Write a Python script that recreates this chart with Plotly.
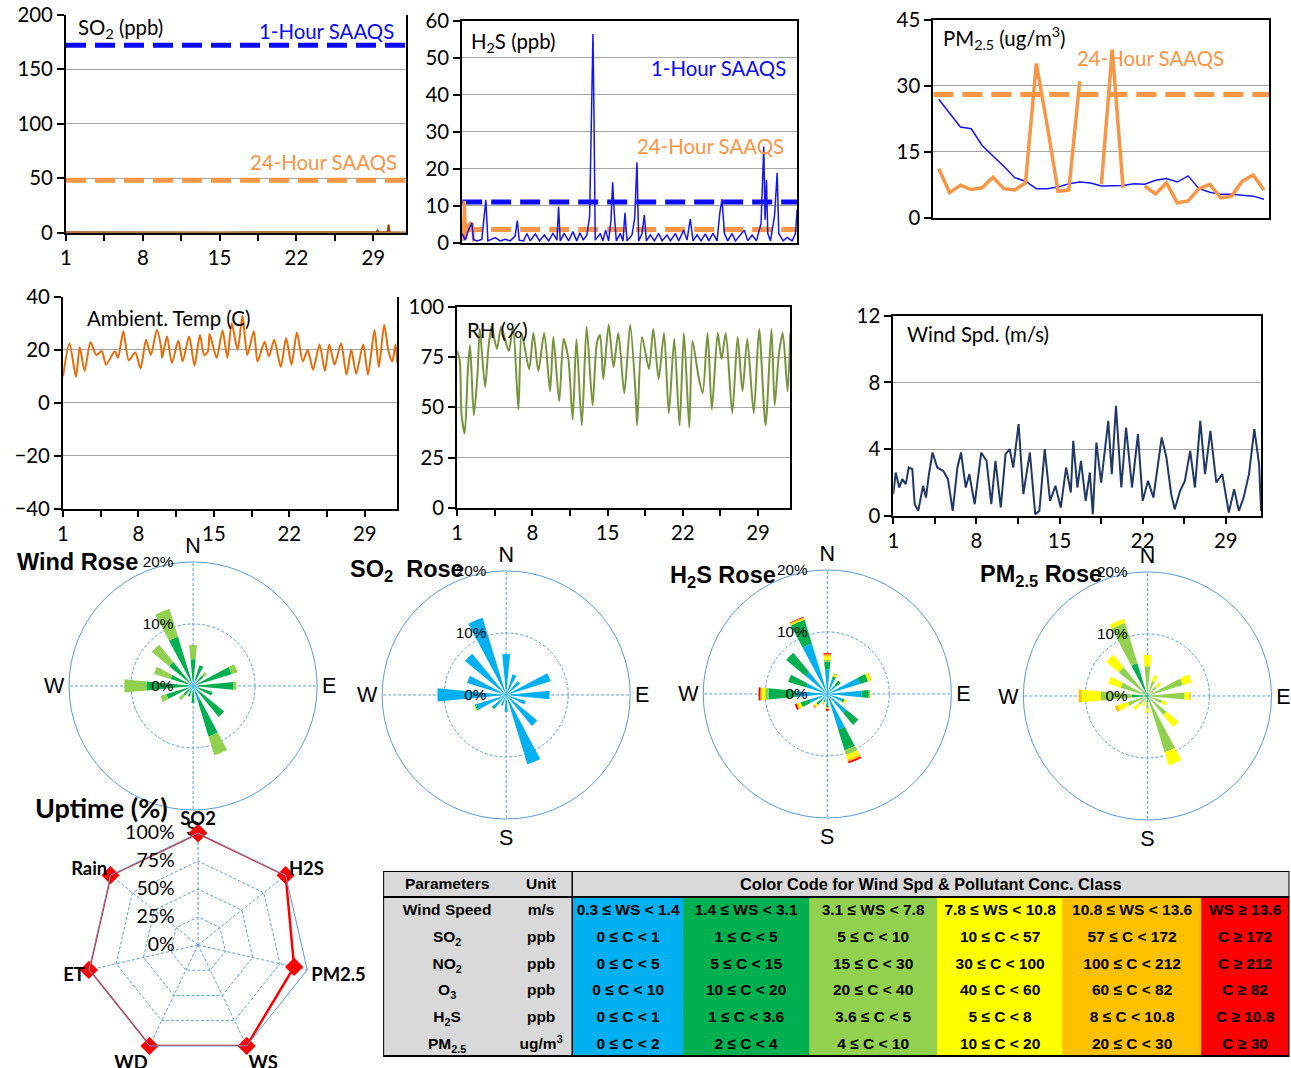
import plotly.graph_objects as go

W, H = 1291, 1068
# measured mapping of page pixels to the photographed picture: pic = S*page + O
SX, OX, SY, OY = 0.995, 6.0, 0.977, 13.4
def fx(t): return min(max(((t - OX) / SX) / W, 0.0), 1.0)
def fy(t): return min(max(1 - ((t - OY) / SY) / H, 0.0), 1.0)
PIC_BOTTOM = SY * H + OY

LATO = "Lato, Carlito, Calibri, sans-serif"
ARIAL = "Liberation Sans, Arial, sans-serif"

# ---------------- data ----------------
day_labels = [1, 8, 15, 22, 29]

so2_day = [1, 5, 10, 15, 20, 25, 29.3, 29.4, 29.5, 30.3, 30.4, 30.5, 32]
so2_val = [0.5, 0.3, 0.5, 0.3, 0.4, 0.3, 0.5, 2.0, 0.5, 0.5, 7.5, 0.5, 0.3]
so2_std_1h = 172
so2_std_24h = 48

h2s_day = [1.0, 1.28, 1.59, 1.9, 2.05, 2.36, 2.82, 3.04, 3.19, 3.38, 4.05, 4.52, 4.98, 5.44, 5.9, 6.1, 6.28,
           6.68, 6.99, 7.3, 7.76, 8.16, 8.6, 9.0, 9.4, 9.77, 9.92, 10.07, 10.44, 10.85, 11.25, 11.6, 11.9,
           12.2, 12.54, 12.79, 12.91, 13.0, 13.1, 13.19, 13.31, 13.78, 14.02, 14.27, 14.55, 14.77, 14.92,
           15.07, 15.26, 15.63, 15.88, 16.06, 16.25, 16.71, 16.96, 17.17, 17.33, 17.64, 17.85, 18.04, 18.41,
           18.78, 19.18, 19.49, 19.95, 20.26, 20.72, 21.03, 21.49, 21.8, 22.1, 22.36, 22.73, 23.1, 23.5,
           23.81, 24.2, 24.58, 24.83, 25.04, 25.26, 25.57, 25.97, 26.28, 26.74, 27.1, 27.42, 27.82, 28.22,
           28.65, 28.9, 29.02, 29.15, 29.27, 29.52, 29.89, 30.14, 30.29, 30.69, 31.06, 31.52, 31.83, 31.99]
h2s_val = [2.5, 0.7, 3.4, 5.4, 0.9, 0.5, 0.9, 8.0, 11.6, 0.5, 1.4, 0.5, 0.9, 0.5, 1.8, 6.0, 0.7,
           0.5, 2.5, 0.5, 2.4, 0.5, 2.1, 0.5, 2.5, 0.7, 9.8, 0.5, 2.5, 0.5, 3.0, 0.5, 2.7,
           0.7, 2.1, 7.1, 27.0, 35.0, 56.4, 36.0, 0.7, 2.5, 0.5, 3.4, 0.5, 6.2, 16.3,
           8.0, 0.5, 2.5, 0.5, 8.1, 0.5, 2.1, 6.6, 21.7, 0.5, 2.5, 7.5, 0.5, 2.1,
           0.5, 2.5, 0.5, 2.1, 0.5, 2.5, 0.5, 3.4, 0.7, 6.4, 0.5, 2.1, 0.5, 2.4,
           0.5, 2.5, 0.5, 8.0, 11.8, 2.5, 0.5, 2.5, 0.5, 2.1, 3.4, 0.5, 2.1, 0.5,
           5.2, 26.0, 6.2, 17.0, 2.5, 0.5, 7.1, 18.8, 2.5, 0.5, 1.4, 0.5, 2.5, 9.0]
h2s24_day = [1.05, 1.22, 1.35, 1.45, 1.6, 1.75, 1.95, 2.05]
h2s24_val = [0.5, 11.3, 1.0, 5.0, 4.5, 5.3, 5.0, 0.3]
h2s_std_1h = 11
h2s_std_24h = 3.6

pm_day = list(range(1, 32))
pm_blue = [26.9, 23.8, 20.6, 20.2, 16.4, 14.0, 11.7, 9.1, 8.3, 6.6, 6.6, 7.0, 7.7, 8.1, 7.9, 7.2,
           7.2, 7.3, 7.7, 7.6, 8.5, 8.9, 8.1, 9.5, 6.6, 5.8, 5.3, 5.3, 5.1, 4.9, 4.2]
pm_orange = [11.1, 5.7, 7.4, 6.4, 6.8, 9.2, 6.6, 6.3, 7.9, 35.0, 21.0, 6.0, 6.3, 31.0, None, 7.6,
             38.2, 6.8, None, 7.2, 5.4, 7.9, 3.4, 3.8, 6.6, 7.6, 4.5, 4.9, 8.3, 9.7, 6.3]
pm_std_24h = 28

temp_day = [1.0, 1.6, 2.2, 2.55, 3.0, 3.55, 4.1, 4.6, 5.0, 5.8, 6.1, 6.6, 7.1, 7.7, 8.2, 8.7, 9.15, 9.7,
            10.1, 10.2, 10.65, 11.1, 11.7, 12.1, 12.7, 13.2, 13.7, 14.1, 14.45, 14.6, 15.25, 15.8, 16.25,
            16.65, 17.2, 17.65, 18.1, 18.7, 19.05, 19.7, 20.1, 20.6, 21.2, 21.7, 22.2, 22.7, 23.25, 23.7,
            24.2, 24.8, 25.3, 25.7, 26.2, 26.8, 27.3, 27.75, 28.2, 28.85, 29.3, 29.9, 30.3, 30.8, 31.2,
            31.55, 31.85, 32.0]
temp_val = [10, 22.5, 9.8, 21, 12, 22.8, 18, 19.5, 14.4, 19.4, 17, 27, 16, 19, 13, 23.8, 18, 27.5,
            21, 17, 25, 15, 23.4, 15.6, 25, 14, 25.6, 18, 19.4, 26, 17, 27.3, 17,
            30, 20, 32.8, 18, 27, 15.6, 23, 17.5, 23.8, 13.5, 24.4, 14.4, 26.5, 15.6, 20,
            12.5, 22, 12, 22, 14.4, 22.5, 10.6, 20, 11, 22, 10.6, 27.5, 13.5, 29.4, 19.4,
            15.6, 22, 15]

rh_day = [1.0, 1.25, 1.4, 1.7, 2.0, 2.2, 2.55, 2.9, 3.1, 3.6, 3.9, 4.2, 4.7, 5.1, 5.8, 6.2, 6.7, 7.0,
          7.7, 8.1, 8.55, 9.1, 9.65, 9.95, 10.5, 10.9, 11.35, 11.75, 12.1, 12.6, 13.05, 13.6, 14.0, 14.3,
          14.6, 15.1, 15.55, 16.0, 16.55, 17.1, 17.6, 17.75, 18.2, 18.85, 19.25, 19.75, 20.25, 20.7,
          21.2, 21.7, 22.1, 22.6, 22.9, 23.5, 23.85, 24.3, 24.7, 25.25, 25.6, 26.0, 26.6, 27.1, 27.55,
          28.0, 28.6, 29.1, 29.7, 30.25, 30.55, 30.95, 31.3, 31.75, 32.0]
rh_val = [78, 73, 47, 37, 69, 81, 46, 67, 89, 60, 79, 90, 79, 90, 78, 90, 49, 87,
          69, 87, 68, 87, 58, 85, 53, 84, 74, 44, 84, 41, 90, 51, 82, 86,
          64, 91, 70, 87, 57, 91, 57, 41, 85, 69, 89, 64, 87, 47,
          84, 41, 87, 40, 83, 64, 57, 87, 49, 87, 74, 87, 47, 85, 58,
          84, 47, 89, 41, 89, 51, 77, 87, 58, 87]

ws_day = [1.0, 1.2, 1.5, 1.75, 2.05, 2.3, 2.6, 2.8, 3.1, 3.5, 3.75, 4.0, 4.3, 4.7, 5.2, 5.6, 6.0, 6.4,
          6.7, 7.1, 7.4, 7.85, 8.4, 8.85, 9.25, 9.6, 10.05, 10.45, 10.8, 11.1, 11.55, 11.95, 12.5, 12.95,
          13.3, 13.75, 14.2, 14.65, 15.1, 15.55, 15.95, 16.15, 16.5, 16.8, 17.2, 17.55, 17.8, 18.1,
          18.5, 18.75, 19.1, 19.4, 19.75, 20.2, 20.6, 21.1, 21.6, 22.0, 22.45, 22.9, 23.6, 24.0, 24.4,
          24.7, 25.15, 25.55, 26.0, 26.4, 26.85, 27.25, 27.7, 28.2, 28.7, 29.25, 29.7, 30.1, 30.5,
          30.95, 31.4, 31.8, 31.97]
ws_val = [1.3, 2.6, 1.7, 2.2, 1.9, 2.9, 2.8, 0.7, 0.3, 1.8, 1.1, 2.5, 3.8, 2.9, 2.7, 2.2, 0.3, 2.9,
          3.8, 1.7, 2.5, 0.7, 3.8, 3.3, 0.7, 3.3, 0.5, 3.7, 4.0, 2.9, 5.5, 1.3, 3.8, 0.1,
          0.3, 4.0, 0.9, 1.8, 0.5, 2.9, 1.4, 4.5, 1.7, 3.3, 0.9, 2.6, 0.1, 4.4,
          2.0, 3.7, 5.7, 2.5, 6.6, 1.7, 5.3, 1.7, 4.9, 0.9, 2.1, 1.1, 4.7, 3.5, 1.3,
          0.4, 1.5, 2.1, 3.9, 1.7, 5.7, 2.5, 5.1, 2.0, 2.5, 0.2, 1.6, 0.3, 1.1,
          2.5, 5.2, 3.1, 0.3]

# Wind / pollution roses: 16 directions, % frequency per class
directions = [0, 22.5, 45, 67.5, 90, 112.5, 135, 157.5, 180, 202.5, 225, 247.5, 270, 292.5, 315, 337.5]
class_colors = ["#00B0F0", "#00B050", "#92D050", "#FFFF00", "#FFC000", "#FF0000"]

wind_rose = [
    [1.0, 1.0, 1.0, 0.8, 0.8, 1.0, 1.2, 2.5, 1.0, 0.8, 0.8, 0.8, 1.0, 0.8, 0.8, 0.8],
    [3.3, 2.5, 1.2, 5.7, 5.7, 2.3, 5.3, 6.0, 1.7, 1.0, 1.2, 3.7, 6.5, 3.0, 4.2, 7.5],
    [2.3, 0.0, 0.7, 1.0, 0.5, 0.0, 0.0, 3.2, 0.0, 0.0, 1.0, 1.0, 3.6, 2.8, 3.6, 4.7],
]
so2_rose = [
    [6.6, 3.5, 2.9, 7.5, 7.0, 3.3, 6.5, 11.7, 2.7, 1.8, 2.7, 5.1, 11.1, 6.6, 8.6, 13.0],
    [0, 0, 0, 0, 0, 0, 0, 0, 0, 0, 0.3, 0.2, 0, 0, 0, 0],
    [0, 0, 0, 0, 0, 0, 0, 0, 0, 0, 0, 0.1, 0, 0, 0, 0],
    [0, 0, 0, 0, 0, 0, 0, 0, 0, 0, 0, 0.1, 0, 0, 0, 0],
]
h2s_rose = [
    [4.0, 2.5, 1.8, 5.5, 5.5, 2.5, 4.0, 6.0, 1.8, 1.0, 1.5, 3.0, 5.0, 3.5, 4.5, 8.5],
    [1.2, 0.5, 1.0, 1.4, 1.2, 0.4, 2.5, 3.5, 0.4, 0.4, 0.8, 1.5, 4.5, 3.1, 4.1, 4.0],
    [0.3, 0.0, 0.0, 0.0, 0.2, 0.0, 0.0, 0.8, 0.0, 0.0, 0.0, 0.0, 0.5, 0.0, 0.0, 0.0],
    [0.6, 0.3, 0.1, 0.4, 0.1, 0.3, 0.0, 0.8, 0.2, 0.2, 0.4, 0.5, 0.6, 0.0, 0.0, 0.2],
    [0.3, 0.2, 0.0, 0.2, 0.0, 0.1, 0.0, 0.3, 0.0, 0.2, 0.2, 0.2, 0.2, 0.0, 0.0, 0.2],
    [0.2, 0.0, 0.0, 0.0, 0.0, 0.0, 0.0, 0.3, 0.3, 0.0, 0.1, 0.3, 0.3, 0.0, 0.0, 0.1],
]
pm_rose = [
    [0, 0, 0, 0, 0, 0, 0, 0, 0, 0, 0, 0, 0, 0, 0, 0],
    [0.5, 0.3, 0.2, 0.5, 0.3, 0.2, 0.5, 1.0, 1.0, 0.3, 0.3, 0.5, 2.5, 0.5, 1.0, 5.5],
    [4.3, 2.2, 1.8, 5.5, 5.7, 2.3, 3.5, 8.5, 1.0, 0.7, 1.5, 2.8, 5.0, 4.0, 5.0, 6.8],
    [1.8, 1.0, 0.9, 1.5, 0.8, 0.8, 2.5, 2.2, 0.7, 0.8, 1.2, 1.7, 3.1, 2.1, 2.6, 0.7],
    [0, 0, 0, 0, 0.2, 0, 0, 0, 0, 0, 0, 0.5, 0.5, 0, 0, 0],
]

uptime_params = ["SO2", "H2S", "PM2.5", "WS", "WD", "ET", "Rain"]
uptime_vals = [100, 100, 88, 100, 100, 100, 100]

# Table
tbl_params = ["Wind Speed", "SO<sub>2</sub>", "NO<sub>2</sub>", "O<sub>3</sub>", "H<sub>2</sub>S", "PM<sub>2.5</sub>"]
tbl_units = ["m/s", "ppb", "ppb", "ppb", "ppb", "ug/m<sup>3</sup>"]
tbl_c1 = ["0.3 ≤ WS < 1.4", "0 ≤ C < 1", "0 ≤ C < 5", "0 ≤ C < 10", "0 ≤ C < 1", "0 ≤ C < 2"]
tbl_c2 = ["1.4 ≤ WS < 3.1", "1 ≤ C < 5", "5 ≤ C < 15", "10 ≤ C < 20", "1 ≤ C < 3.6", "2 ≤ C < 4"]
tbl_c3 = ["3.1 ≤ WS < 7.8", "5 ≤ C < 10", "15 ≤ C < 30", "20 ≤ C < 40", "3.6 ≤ C < 5", "4 ≤ C < 10"]
tbl_c4 = ["7.8 ≤ WS < 10.8", "10 ≤ C < 57", "30 ≤ C < 100", "40 ≤ C < 60", "5 ≤ C < 8", "10 ≤ C < 20"]
tbl_c5 = ["10.8 ≤ WS < 13.6", "57 ≤ C < 172", "100 ≤ C < 212", "60 ≤ C < 82", "8 ≤ C < 10.8", "20 ≤ C < 30"]
tbl_c6 = ["WS ≥ 13.6", "C ≥ 172", "C ≥ 212", "C ≥ 82", "C ≥ 10.8", "C ≥ 30"]
tbl_header = ["Parameters", "Unit"]
tbl_header_span = "Color Code for Wind Spd & Pollutant Conc. Class"

# ---------------- styles ----------------
STD_BLUE = "#0A0AF5"
STD_ORANGE = "#F79646"
GRID = "#A6A6A6"
ROSE_GRID = "#5B9BD5"
TBL_GRAY = "#D9D9D9"
NB = "\u00a0"

fig = go.Figure()

def line(x, y, color, width, xa, ya, dash=None, shape="linear"):
    fig.add_trace(go.Scatter(x=x, y=y, mode="lines",
                             line=dict(color=color, width=width, dash=dash, shape=shape, smoothing=0.7),
                             xaxis=xa, yaxis=ya, showlegend=False, hoverinfo="skip"))

DASH = "20px,9px"
line(so2_day, so2_val, "#974806", 2, "x", "y")
line([1, 32], [so2_std_1h] * 2, STD_BLUE, 5, "x", "y", dash=DASH)
line([1, 32], [so2_std_24h] * 2, STD_ORANGE, 5, "x", "y", dash=DASH)
line([1, 32], [h2s_std_1h] * 2, STD_BLUE, 5, "x2", "y2", dash=DASH)
line([1, 32], [h2s_std_24h] * 2, STD_ORANGE, 5, "x2", "y2", dash=DASH)
line(h2s24_day, h2s24_val, STD_ORANGE, 3, "x2", "y2")
line(h2s_day, h2s_val, "#1515F0", 1.5, "x2", "y2")
line([0.5, 31.5], [pm_std_24h] * 2, STD_ORANGE, 5, "x3", "y3", dash=DASH)
line(pm_day, pm_blue, "#1515F0", 1.5, "x3", "y3")
line(pm_day, pm_orange, STD_ORANGE, 3.5, "x3", "y3")
line(temp_day, temp_val, "#E46C0A", 2, "x4", "y4", shape="spline")
line(rh_day, rh_val, "#77933C", 2, "x5", "y5", shape="spline")
line(ws_day, ws_val, "#1F3864", 2, "x6", "y6")

tick_vals = [1 + 3.5 * i for i in range(9)]
tick_text = [str(int(v)) if v in day_labels else "" for v in tick_vals]
TF = 20.4

def xax(x0, x1, anchor, labels=True, mirror=False, rng=(1, 32)):
    d = dict(domain=[fx(x0), fx(x1)], range=list(rng), anchor=anchor, showgrid=False, zeroline=False,
             showline=True, linecolor="black", linewidth=2, mirror=mirror,
             tickfont=dict(family=LATO, size=TF, color="black"), fixedrange=True)
    if labels:
        d.update(tickmode="array", tickvals=tick_vals, ticktext=tick_text, ticks="outside",
                 ticklen=6, tickwidth=1.5, tickcolor="black")
    else:
        d.update(showticklabels=False, ticks="")
    return d

def yax(y0, y1, anchor, rng, dtick, mirror=True):
    return dict(domain=[fy(y1), fy(y0)], range=list(rng), anchor=anchor, dtick=dtick, tick0=rng[0],
                showgrid=True, gridcolor=GRID, gridwidth=1, zeroline=False,
                showline=True, linecolor="black", linewidth=2, mirror=mirror,
                ticks="outside", ticklen=7, tickwidth=1.5, tickcolor="black",
                tickfont=dict(family=LATO, size=TF, color="black"), fixedrange=True)

def add_rose(data, sub, colors):
    for vals, col in zip(data, colors):
        fig.add_trace(go.Barpolar(r=vals, theta=directions, width=[11] * len(directions),
                                  marker=dict(color=col, line=dict(width=0)), subplot=sub,
                                  showlegend=False, hoverinfo="skip"))

add_rose(wind_rose, "polar", class_colors[:3])
add_rose(so2_rose, "polar2", class_colors[:4])
add_rose(h2s_rose, "polar3", class_colors)
add_rose(pm_rose, "polar4", class_colors[:5])

fig.add_trace(go.Scatterpolar(r=uptime_vals + uptime_vals[:1], theta=uptime_params + uptime_params[:1],
                              mode="lines+markers", line=dict(color="#FF0000", width=2.5),
                              marker=dict(symbol="diamond", size=14, color="#FF0000"),
                              subplot="polar5", showlegend=False, hoverinfo="skip"))

def polar_domain(cx, cy, r):
    return dict(x=[fx(cx - r), fx(cx + r)], y=[fy(cy + r), fy(cy - r)])

R = 124
def rose_polar(cx, cy):
    return dict(
        domain=polar_domain(cx, cy, R),
        bgcolor="rgba(0,0,0,0)", barmode="stack",
        radialaxis=dict(range=[0, 20], tickvals=[0, 10, 20],
                        ticktext=[t + NB * 4 for t in ["0%", "10%", "20%"]],
                        angle=90, tickangle=90, side="counterclockwise", showline=False, ticks="",
                        gridcolor=ROSE_GRID, griddash="3px,2px", gridwidth=1,
                        tickfont=dict(family=ARIAL, size=15.3, color="black")),
        angularaxis=dict(rotation=90, direction="clockwise", tickmode="array",
                         tickvals=[0, 90, 180, 270], ticktext=["N", "E", "S", "W"],
                         showline=True, linecolor=ROSE_GRID, linewidth=1, ticks="",
                         gridcolor=ROSE_GRID, griddash="3px,2px",
                         gridwidth=1, tickfont=dict(family=ARIAL, size=21.5, color="black")),
    )

uptime_polar = dict(
    domain=polar_domain(198, 946, 113),
    bgcolor="rgba(0,0,0,0)", gridshape="linear",
    radialaxis=dict(range=[0, 100], tickvals=[0, 25, 50, 75, 100],
                    ticktext=[t + NB * 4 for t in ["0%", "25%", "50%", "75%", "100%"]],
                    angle=90, tickangle=90,
                    side="counterclockwise", showline=False, ticks="",
                    gridcolor=ROSE_GRID, griddash="3px,2px", gridwidth=1,
                    tickfont=dict(family=LATO, size=19.5, color="black")),
    angularaxis=dict(rotation=90, direction="clockwise", showline=True, linecolor=ROSE_GRID,
                     linewidth=1, ticks="", gridcolor=ROSE_GRID, griddash="3px,2px", gridwidth=1,
                     tickfont=dict(family=LATO, size=18.4, color="black", weight="bold")),
)

# --------- colour-code table drawn as a heatmap (axis units = picture px) ---------
TBL_X0, TBL_X1, TBL_Y0 = 383, 1289, 871
TBL_HEAD = 897
col_edges = [383, 510, 572, 683, 809, 937, 1062, 1201, 1289]
row_h = (PIC_BOTTOM - TBL_HEAD) / 6
row_edges = [TBL_Y0, TBL_HEAD] + [TBL_HEAD + row_h * (k + 1) for k in range(6)]

def b(s):
    return "<b>" + s.replace(" ", NB) + "</b>" if s else ""

columns = [tbl_params, tbl_units, tbl_c1, tbl_c2, tbl_c3, tbl_c4, tbl_c5, tbl_c6]
z_tbl = [[0] * 8] + [[0, 0, 1, 2, 3, 4, 5, 6] for _ in range(6)]
text_tbl = [[b(s) for s in tbl_header] + [""] * 6]
for r in range(6):
    text_tbl.append([b(col[r]) for col in columns])

palette = [TBL_GRAY] + class_colors
cscale = []
for k, c in enumerate(palette):
    lo = max((2 * k - 1) / 12, 0)
    hi = min((2 * k + 1) / 12, 1)
    cscale += [[lo, c], [hi, c]]

fig.add_trace(go.Heatmap(x=col_edges, y=row_edges, z=z_tbl, text=text_tbl, texttemplate="%{text}",
                         textfont=dict(family=ARIAL, size=15.5, color="black"),
                         colorscale=cscale, zmin=0, zmax=6, showscale=False, xgap=0, ygap=0,
                         hoverinfo="skip", xaxis="x7", yaxis="y7"))

shapes = [
    dict(type="rect", xref="x7", yref="y7", x0=TBL_X0, x1=TBL_X1, y0=TBL_Y0, y1=PIC_BOTTOM - 1,
         line=dict(color="black", width=2)),
    dict(type="line", xref="x7", yref="y7", x0=TBL_X0, x1=TBL_X1, y0=TBL_HEAD, y1=TBL_HEAD,
         line=dict(color="black", width=2)),
    dict(type="line", xref="x7", yref="y7", x0=572, x1=572, y0=TBL_Y0, y1=PIC_BOTTOM,
         line=dict(color="black", width=1.5)),
]

def ann(text, x, y, color="black", size=20.4, family=LATO, xanchor="left", yanchor="middle"):
    return dict(text=text, x=fx(x), y=fy(y), xref="paper", yref="paper", showarrow=False,
                xanchor=xanchor, yanchor=yanchor, font=dict(family=family, size=size, color=color))

annotations = [
    ann("SO<sub>2</sub> (ppb)", 76, 29),
    ann("1-Hour SAAQS", 396, 31, color=STD_BLUE, xanchor="right"),
    ann("24-Hour SAAQS", 399, 162, color=STD_ORANGE, xanchor="right"),
    ann("H<sub>2</sub>S (ppb)", 469, 43),
    ann("1-Hour SAAQS", 788, 68, color=STD_BLUE, xanchor="right"),
    ann("24-Hour SAAQS", 786, 146, color=STD_ORANGE, xanchor="right"),
    ann("PM<sub>2.5</sub> (ug/m<sup>3</sup>)", 941, 38),
    ann("24-Hour SAAQS", 1075, 58, color=STD_ORANGE),
    ann("Ambient. Temp (C)", 85, 318),
    ann("RH (%)", 465, 330),
    ann("Wind Spd. (m/s)", 905, 334),
    ann("<b>Wind Rose</b>", 15, 562, size=23.5, family=ARIAL),
    ann("<b>SO<sub>2</sub>  Rose</b>", 348, 571, size=23.5, family=ARIAL),
    ann("<b>H<sub>2</sub>S Rose</b>", 668, 577, size=23.5, family=ARIAL),
    ann("<b>PM<sub>2.5</sub> Rose</b>", 978, 576, size=23.5, family=ARIAL),
    ann("<b>Uptime (%)</b>", 33, 807, size=27, family=LATO),
    dict(text="<b>" + tbl_header_span + "</b>", x=(572 + TBL_X1) / 2, y=(TBL_Y0 + TBL_HEAD) / 2,
         xref="x7", yref="y7", showarrow=False, xanchor="center", yanchor="middle",
         font=dict(family=ARIAL, size=16.3, color="black")),
]

fig.update_layout(
    width=W, height=H, margin=dict(l=0, r=0, t=0, b=0), autosize=False,
    paper_bgcolor="white", plot_bgcolor="white",
    xaxis=xax(66, 406, "y"), yaxis=yax(15, 233, "x", (0, 200), 50, mirror=True),
    xaxis2=xax(462, 797, "y2", labels=False, mirror=True),
    yaxis2=yax(21, 243, "x2", (0, 60), 10),
    xaxis3=xax(933, 1269, "y3", labels=False, mirror=True, rng=(0.5, 31.5)),
    yaxis3=yax(20, 218, "x3", (0, 45), 15),
    xaxis4=xax(63, 397, "y4"), yaxis4=yax(297, 509, "x4", (-40, 40), 20, mirror=True),
    xaxis5=xax(457, 790, "y5", mirror=True), yaxis5=yax(307, 508, "x5", (0, 100), 25),
    xaxis6=xax(893, 1261, "y6", mirror=True), yaxis6=yax(316, 516, "x6", (0, 12), 4),
    xaxis7=dict(domain=[fx(TBL_X0), fx(TBL_X1)], range=[TBL_X0, TBL_X1], visible=False,
                anchor="y7", fixedrange=True),
    yaxis7=dict(domain=[0, fy(TBL_Y0)], range=[PIC_BOTTOM, TBL_Y0], visible=False,
                anchor="x7", fixedrange=True),
    polar=rose_polar(193, 686), polar2=rose_polar(506, 695),
    polar3=rose_polar(827, 694), polar4=rose_polar(1147, 696),
    polar5=uptime_polar,
    shapes=shapes, annotations=annotations,
)

fig.write_html("out.html", config={"displayModeBar": False},
               post_script="document.body.style.margin='0';document.body.style.overflow='hidden';")
